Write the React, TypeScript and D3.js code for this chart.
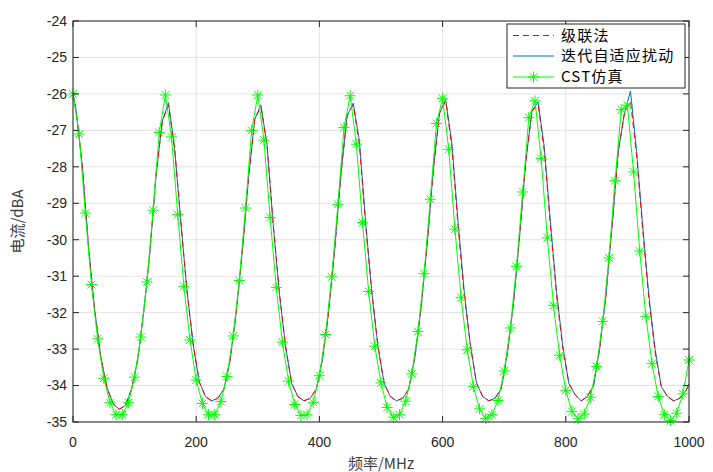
import * as d3 from "d3";

// CST simulation, sampled every 10 MHz
const cstFreq = d3.range(0, 1001, 10);
const cstVals = [
  -26.0, -27.1, -29.27, -31.23, -32.72, -33.8, -34.47, -34.8, -34.8, -34.47,
  -33.77, -32.67, -31.16, -29.19, -27.06, -26.03, -27.18, -29.31, -31.28, -32.75,
  -33.85, -34.49, -34.8, -34.8, -34.44, -33.75, -32.64, -31.12, -29.13, -27.0,
  -26.03, -27.27, -29.39, -31.31, -32.81, -33.88, -34.52, -34.82, -34.8, -34.46,
  -33.73, -32.6, -31.02, -29.03, -26.92, -26.05, -27.38, -29.53, -31.42, -32.92,
  -33.93, -34.6, -34.87, -34.8, -34.43, -33.68, -32.52, -30.93, -28.89, -26.81,
  -26.12, -27.52, -29.71, -31.59, -33.02, -34.03, -34.64, -34.9, -34.8, -34.41,
  -33.6, -32.42, -30.73, -28.69, -26.65, -26.19, -27.77, -29.95, -31.8, -33.17,
  -34.13, -34.71, -34.91, -34.78, -34.32, -33.48, -32.24, -30.5, -28.38, -26.43,
  -26.31, -28.14, -30.31, -32.1, -33.4, -34.3, -34.8, -34.96, -34.76, -34.23,
  -33.3,
];

// model curves, sampled at 0, 5, 15, ... 995, 1000 MHz
const modelFreq = [0, ...d3.range(5, 1000, 10), 1000];
const iterVals = [
  -26.0, -26.45, -27.95, -30.15, -31.9, -33.2, -34.05, -34.5, -34.65, -34.55,
  -34.1, -33.3, -31.95, -30.3, -28.2, -26.75, -26.24, -27.5, -29.5, -31.4,
  -32.86, -33.9, -34.3, -34.42, -34.35, -34.1, -33.3, -32.0, -30.3, -28.3,
  -26.7, -26.3, -27.4, -29.58, -31.46, -32.92, -33.94, -34.3, -34.42, -34.35,
  -34.1, -33.28, -31.97, -30.22, -28.19, -26.6, -26.25, -27.3, -29.5, -31.42,
  -32.92, -33.93, -34.3, -34.42, -34.35, -34.1, -33.22, -31.88, -30.11, -28.06,
  -26.53, -26.15, -27.35, -29.49, -31.4, -32.88, -33.93, -34.3, -34.42, -34.35,
  -34.09, -33.13, -31.74, -29.91, -27.87, -26.47, -26.22, -27.45, -29.51, -31.43,
  -32.9, -33.94, -34.25, -34.42, -34.3, -34.0, -32.98, -31.54, -29.65, -27.6,
  -26.55, -25.92, -27.59, -29.66, -31.56, -33.01, -34.03, -34.3, -34.42, -34.35,
  -34.15, -33.95,
];
const cascadeVals = [
  -26.0, -26.45, -27.95, -30.15, -31.9, -33.2, -34.05, -34.5, -34.65, -34.55,
  -34.1, -33.3, -31.95, -30.3, -28.2, -26.75, -26.3, -27.5, -29.5, -31.4,
  -32.86, -33.9, -34.3, -34.42, -34.35, -34.1, -33.3, -32.0, -30.3, -28.3,
  -26.7, -26.35, -27.4, -29.58, -31.46, -32.92, -33.94, -34.3, -34.42, -34.35,
  -34.1, -33.28, -31.97, -30.22, -28.19, -26.6, -26.3, -27.4, -29.6, -31.42,
  -32.92, -33.93, -34.3, -34.42, -34.35, -34.1, -33.22, -31.88, -30.11, -28.06,
  -26.53, -26.2, -27.45, -29.6, -31.5, -32.88, -33.93, -34.3, -34.42, -34.35,
  -34.09, -33.13, -31.74, -29.91, -27.87, -26.47, -26.3, -27.55, -29.62, -31.52,
  -32.98, -33.94, -34.25, -34.42, -34.3, -34.0, -32.98, -31.54, -29.65, -27.6,
  -26.55, -26.2, -27.7, -29.75, -31.65, -33.08, -34.03, -34.3, -34.42, -34.35,
  -34.15, -33.95,
];

const xTicks = [0, 200, 400, 600, 800, 1000];
const yTicks = d3.range(-35, -23, 1);
const legendLabels = ["级联法", "迭代自适应扰动", "CST仿真"];

const W = 713;
const H = 472;
const left = 73, right = 689, top = 21, bottom = 422;
const font = "'Liberation Sans', Arial, 'Noto Sans CJK SC', sans-serif";
const cjk = "'Noto Sans CJK SC', 'Liberation Sans', sans-serif";
const starPath = "M-5.5,0H5.5M0,-5.5V5.5M-3.9,-3.9L3.9,3.9M-3.9,3.9L3.9,-3.9";

export default function App() {
  const x = d3.scaleLinear().domain([0, 1000]).range([left, right]);
  const y = d3.scaleLinear().domain([-35, -24]).range([bottom, top]);

  const line = d3
    .line<[number, number]>()
    .x((d) => x(d[0]))
    .y((d) => y(d[1]));

  const cst = cstFreq.map((f, i) => [f, cstVals[i]] as [number, number]);
  const iter = modelFreq.map((f, i) => [f, iterVals[i]] as [number, number]);
  const casc = modelFreq.map((f, i) => [f, cascadeVals[i]] as [number, number]);

  const tickLen = 6;
  const lx = 507, ly = 24, lw = 178, lh = 64;
  const rows = [35.5, 56, 77];

  return (
    <svg
      width={W}
      height={H}
      style={{ position: "absolute", left: 0, top: 0, background: "#fff" }}
      fontFamily={font}
    >
      <rect x={0} y={0} width={W} height={H} fill="#fff" />
      {/* grid */}
      <g stroke="#e3e3e3" strokeWidth={1}>
        {yTicks.map((t) => (
          <line key={"gy" + t} x1={left} x2={right} y1={y(t)} y2={y(t)} />
        ))}
        {xTicks.map((t) => (
          <line key={"gx" + t} x1={x(t)} x2={x(t)} y1={top} y2={bottom} />
        ))}
      </g>

      {/* series */}
      <path d={line(iter) || ""} fill="none" stroke="#0072BD" strokeWidth={1} />
      <path
        d={line(casc) || ""}
        fill="none"
        stroke="#ff0000"
        strokeWidth={1}
        strokeDasharray="6,4"
      />
      <path d={line(cst) || ""} fill="none" stroke="#00ff00" strokeWidth={1} />
      <g stroke="#00ff00" strokeWidth={1}>
        {cst.map((d, i) => (
          <path key={"m" + i} d={starPath} transform={`translate(${x(d[0])},${y(d[1])})`} />
        ))}
      </g>

      {/* axes box and ticks */}
      <g stroke="#262626" strokeWidth={1} fill="none">
        <rect x={left} y={top} width={right - left} height={bottom - top} />
        {yTicks.map((t) => (
          <g key={"ty" + t}>
            <line x1={left} x2={left + tickLen} y1={y(t)} y2={y(t)} />
            <line x1={right} x2={right - tickLen} y1={y(t)} y2={y(t)} />
          </g>
        ))}
        {xTicks.map((t) => (
          <g key={"tx" + t}>
            <line x1={x(t)} x2={x(t)} y1={bottom} y2={bottom - tickLen} />
            <line x1={x(t)} x2={x(t)} y1={top} y2={top + tickLen} />
          </g>
        ))}
      </g>

      <g fill="#262626" fontSize={14}>
        {yTicks.map((t) => (
          <text key={"ly" + t} x={left - 6} y={y(t)} dy="0.35em" textAnchor="end">
            {t}
          </text>
        ))}
        {xTicks.map((t) => (
          <text key={"lx" + t} x={x(t)} y={bottom + 25} textAnchor="middle">
            {t}
          </text>
        ))}
      </g>

      <text
        x={(left + right) / 2}
        y={469}
        textAnchor="middle"
        fontSize={15}
        fill="#404040"
        fontFamily={cjk}
      >
        频率/MHz
      </text>
      <text
        transform={`translate(23,${(top + bottom) / 2}) rotate(-90)`}
        textAnchor="middle"
        fontSize={15}
        fill="#404040"
        fontFamily={cjk}
      >
        电流/dBA
      </text>

      {/* legend */}
      <rect x={lx} y={ly} width={lw} height={lh} fill="#fff" stroke="#262626" strokeWidth={1} />
      <line x1={513} x2={554} y1={rows[0]} y2={rows[0]} stroke="#ff0000" strokeDasharray="6,4" />
      <line x1={513} x2={554} y1={rows[1]} y2={rows[1]} stroke="#0072BD" />
      <line x1={513} x2={554} y1={rows[2]} y2={rows[2]} stroke="#00ff00" />
      <path d={starPath} stroke="#00ff00" transform={`translate(533.5,${rows[2]})`} />
      <g fill="#000" fontSize={15} fontFamily={cjk}>
        {legendLabels.map((l, i) => (
          <text key={l} x={561} y={rows[i]} dy="0.36em" letterSpacing={1.2}>
            {l}
          </text>
        ))}
      </g>
    </svg>
  );
}
